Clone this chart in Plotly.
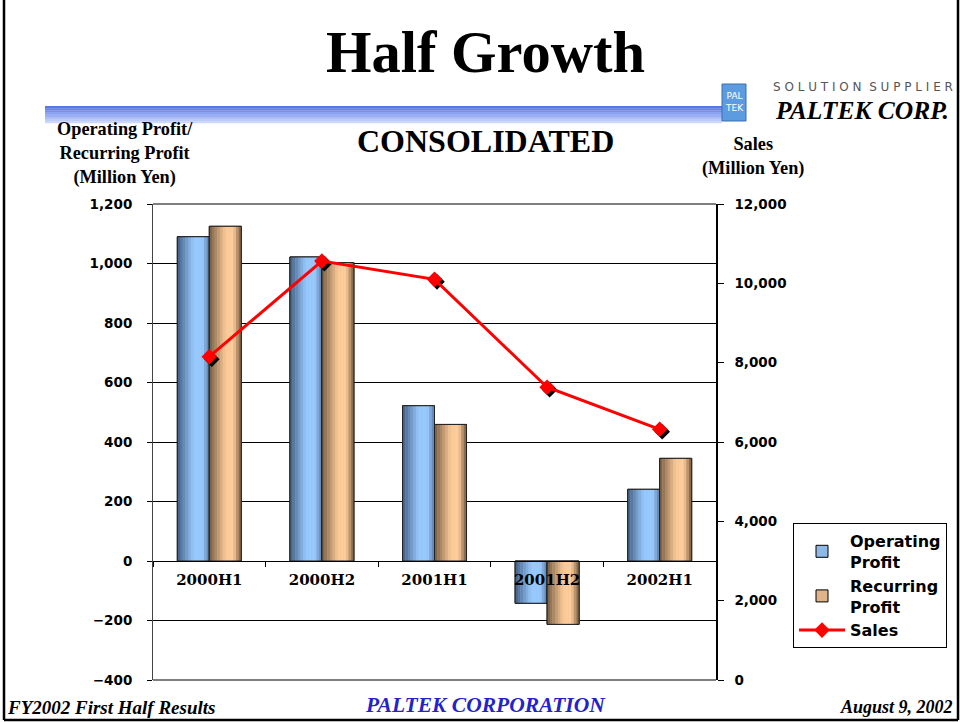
import plotly.graph_objects as go

# ---------------- data ----------------
categories = ["2000H1", "2000H2", "2001H1", "2001H2", "2002H1"]
operating_profit = [1090, 1022, 522, -142, 241]
recurring_profit = [1125, 1003, 459, -213, 345]
sales = [8150, 10560, 10100, 7380, 6320]

left_tickvals = [-400, -200, 0, 200, 400, 600, 800, 1000, 1200]
right_tickvals = [0, 2000, 4000, 6000, 8000, 10000, 12000]

# ---------------- geometry helpers (paper coords) ----------------
W, H = 960, 722
L, R, T, B = 153, 716, 204, 680


def px(xp):
    return (xp - L) / (R - L)


def py(yp):
    return (B - yp) / (B - T)


SERIF = "Liberation Serif"
SANS = "DejaVu Sans"

BAR_W = 0.284
N_STRIPS = 12


def lerp_color(stops, t):
    for (t0, c0), (t1, c1) in zip(stops[:-1], stops[1:]):
        if t0 <= t <= t1:
            f = (t - t0) / (t1 - t0) if t1 > t0 else 0
            c = [round(a + (b - a) * f) for a, b in zip(c0, c1)]
            return "rgb(%d,%d,%d)" % tuple(c)
    c = stops[-1][1]
    return "rgb(%d,%d,%d)" % tuple(c)


blue_stops = [(0, (66, 94, 130)), (0.5, (150, 200, 252)), (0.78, (152, 202, 255)), (1, (90, 124, 166))]
tan_stops = [(0, (116, 92, 68)), (0.5, (250, 200, 150)), (0.75, (255, 206, 156)), (1, (116, 88, 60))]

fig = go.Figure()


def add_gradient_bars(name, values, offset, stops, mid_color):
    # legend / base trace
    fig.add_trace(go.Bar(
        x=categories, y=values, name=name, offset=offset, width=BAR_W,
        marker=dict(color=mid_color, line=dict(color="black", width=1)),
        showlegend=True, hoverinfo="skip"))
    sw = BAR_W / N_STRIPS
    for i in range(N_STRIPS):
        t = (i + 0.5) / N_STRIPS
        fig.add_trace(go.Bar(
            x=categories, y=values, offset=offset + i * sw, width=sw * 1.08,
            marker=dict(color=lerp_color(stops, t), line=dict(width=0)),
            showlegend=False, hoverinfo="skip"))
    # outline on top
    fig.add_trace(go.Bar(
        x=categories, y=values, offset=offset, width=BAR_W,
        marker=dict(color="rgba(0,0,0,0)", line=dict(color="#222", width=1)),
        showlegend=False, hoverinfo="skip"))


add_gradient_bars("Operating<br>Profit", operating_profit, -BAR_W, blue_stops, "#8fb8e6")
add_gradient_bars("Recurring<br>Profit", recurring_profit, 0, tan_stops, "#e0b48a")

# shadow of the sales markers (drawn on slightly shifted hidden axes, below the red line)
fig.add_trace(go.Scatter(
    x=categories, y=sales, xaxis="x2", yaxis="y2", mode="markers",
    marker=dict(symbol="diamond", size=12, color="black"),
    showlegend=False, hoverinfo="skip"))

fig.add_trace(go.Scatter(
    x=categories, y=sales, name="Sales", xaxis="x3", yaxis="y3",
    mode="lines+markers",
    line=dict(color="#ff0000", width=3),
    marker=dict(symbol="diamond", size=12, color="#ff0000")))

shift_x = 2.5 / ((R - L) / 5)
shift_y = 2.5 / ((B - T) / 12000)

fig.update_layout(
    width=W, height=H,
    margin=dict(l=L, r=W - R, t=T, b=H - B, pad=0),
    paper_bgcolor="white", plot_bgcolor="white",
    barmode="overlay",
    showlegend=True,
    legend=dict(
        x=px(793), y=py(523), xanchor="left", yanchor="top",
        bgcolor="white", bordercolor="black", borderwidth=1,
        font=dict(family=SANS, size=16, color="black", weight="bold"),
        traceorder="normal", tracegroupgap=4, itemwidth=46,
    ),
    xaxis=dict(
        type="category", range=[-0.5, 4.5], anchor="free", position=0.25,
        showline=True, linecolor="black", linewidth=1,
        ticks="outside", ticklen=5, tickcolor="black", tickson="boundaries",
        tickfont=dict(family="DejaVu Serif", size=15, color="black", weight="bold"),
        ticklabelstandoff=5, showgrid=False, zeroline=False, fixedrange=True,
    ),
    xaxis2=dict(
        type="category", range=[-0.5 - shift_x, 4.5 - shift_x], overlaying="x",
        visible=False, fixedrange=True,
    ),
    xaxis3=dict(
        type="category", range=[-0.5, 4.5], overlaying="x",
        visible=False, fixedrange=True,
    ),
    yaxis=dict(
        range=[-400, 1200], tickvals=left_tickvals, tickformat=",",
        showgrid=True, gridcolor="black", gridwidth=1,
        zeroline=True, zerolinecolor="black", zerolinewidth=1,
        showline=True, linecolor="#444", linewidth=1,
        ticks="outside", ticklen=5, tickcolor="black",
        tickfont=dict(family=SANS, size=13.5, color="black", weight="bold"),
        ticklabelstandoff=12, fixedrange=True,
    ),
    yaxis2=dict(
        range=[0 + shift_y, 12000 + shift_y], overlaying="y", visible=False,
        fixedrange=True,
    ),
    yaxis3=dict(
        range=[0, 12000], tickvals=right_tickvals, tickformat=",",
        overlaying="y", side="right", showgrid=False, zeroline=False,
        showline=True, linecolor="black", linewidth=1.5,
        ticks="outside", ticklen=6, tickcolor="black",
        tickfont=dict(family=SANS, size=13.5, color="black", weight="bold"),
        ticklabelstandoff=8, fixedrange=True,
    ),
)

shapes = []
# plot area border (top / bottom)
shapes.append(dict(type="line", xref="paper", yref="paper", x0=0, x1=1, y0=1, y1=1,
                   line=dict(color="black", width=1)))
shapes.append(dict(type="line", xref="paper", yref="paper", x0=0, x1=1, y0=0, y1=0,
                   line=dict(color="#555", width=1.5)))
# slide frame
for (x0, y0, x1, y1) in [(4, 0, 4, 720), (4, 720, 958, 720), (958, 0, 958, 720)]:
    shapes.append(dict(type="line", xref="paper", yref="paper",
                       x0=px(x0), x1=px(x1), y0=py(y0), y1=py(y1),
                       line=dict(color="black", width=2.5)))
# blue gradient band under the title
band_colors = ["#5878e8", "#6684ea", "#7590ee", "#869ef0", "#98acf3", "#abbcf5", "#bccaf7", "#cdd7fa"]
band_top, band_bot = 106, 123
step = (band_bot - band_top) / len(band_colors)
for i, c in enumerate(band_colors):
    shapes.append(dict(type="rect", xref="paper", yref="paper",
                       x0=px(45), x1=px(722),
                       y0=py(band_top + i * step), y1=py(band_top + (i + 1) * step + 0.3),
                       line=dict(width=0), fillcolor=c, layer="below"))
# logo icon
shapes.append(dict(type="rect", xref="paper", yref="paper",
                   x0=px(722), x1=px(746), y0=py(84), y1=py(121),
                   line=dict(color="#3b6fb0", width=1), fillcolor="#5d9be0"))

annotations = []


def ann(text, x, y, size, family=SERIF, color="black", xanchor="center", yanchor="middle", **kw):
    annotations.append(dict(text=text, x=x, y=y, xref="paper", yref="paper",
                            showarrow=False, xanchor=xanchor, yanchor=yanchor,
                            font=dict(family=family, size=size, color=color), **kw))


ann("<b>Half Growth</b>", px(486), py(52), 58.5)
ann("<b>CONSOLIDATED</b>", px(486), py(141), 32)
ann("<b>Operating Profit/<br>Recurring Profit<br>(Million Yen)</b>", px(125), py(154), 18.3)
ann("<b>Sales<br>(Million Yen)</b>", px(753), py(157), 18.3)
ann("S O L U T I O N  S U P P L I E R", px(863), py(87), 12, family=SANS, color="#555")
ann("<b><i>PALTEK CORP.</i></b>", px(862), py(110.5), 25.5)
ann("PAL<br>TEK", px(734), py(102), 9, family=SANS, color="white")
ann("<b><i>FY2002 First Half Results</i></b>", px(5), py(707), 19, xanchor="left")
ann("<b><i>PALTEK CORPORATION</i></b>", px(486), py(705), 21.5, color="#2323c8")
ann("<b><i>August 9, 2002</i></b>", px(955), py(707), 18, xanchor="right")

fig.update_layout(shapes=shapes, annotations=annotations)

fig.write_html(
    "out.html",
    config={"displayModeBar": False},
    post_script="document.body.style.margin='0';document.body.style.overflow='hidden';",
)
